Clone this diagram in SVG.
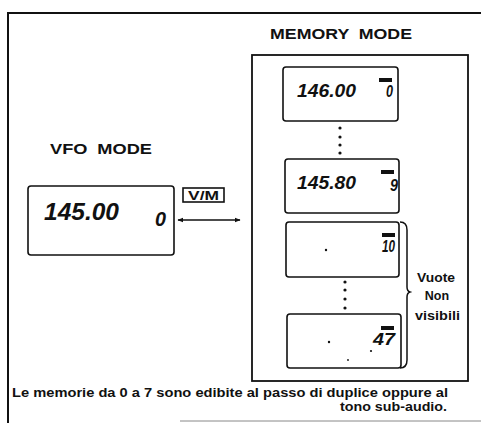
<svg xmlns="http://www.w3.org/2000/svg" width="481" height="423" viewBox="0 0 481 423">
<defs>
<style>
.lbl{font-family:"Liberation Sans",Arial,sans-serif;font-weight:bold;fill:#111}
.lcd{font-family:"Liberation Sans",Arial,sans-serif;font-style:italic;font-weight:bold;fill:#111}
.disp{fill:#fff;stroke:#111;stroke-width:1.6}
.frame{fill:none;stroke:#111;stroke-width:2}
.dot{fill:#111}
.ico{fill:#111}
</style>
<marker id="ah" viewBox="0 0 10 10" refX="9" refY="5" markerWidth="6" markerHeight="6" orient="auto-start-reverse" markerUnits="userSpaceOnUse">
<path d="M0,1 L10,5 L0,9 Z" fill="#111"/>
</marker>
</defs>
<rect width="481" height="423" fill="#fff"/>
<g id="frame">
<path class="frame" d="M8,423 L8,13 L481,13"/>
<path d="M180,421 L481,421" stroke="#888" stroke-width="1" fill="none"/>
</g>
<g id="titles">
<text class="lbl" x="270" y="39" font-size="14.5" textLength="142" lengthAdjust="spacingAndGlyphs" word-spacing="4">MEMORY MODE</text>
<text class="lbl" x="50" y="154" font-size="15" textLength="102" lengthAdjust="spacingAndGlyphs" word-spacing="4">VFO MODE</text>
</g>
<g id="vfo">
<rect class="disp" x="28" y="186" width="146" height="69" rx="3"/>
<text class="lcd" x="44" y="220" font-size="23" textLength="75" lengthAdjust="spacingAndGlyphs">145.00</text>
<text class="lcd" x="155" y="226" font-size="20" textLength="11" lengthAdjust="spacingAndGlyphs">0</text>
</g>
<g id="vm">
<rect x="183" y="188" width="41" height="14" fill="#fff" stroke="#111" stroke-width="1.6"/>
<text class="lbl" x="188" y="199.5" font-size="12" textLength="31" lengthAdjust="spacingAndGlyphs">V/M</text>
</g>
<g id="connectors">
<line x1="178" y1="220" x2="240" y2="220" stroke="#111" stroke-width="1.5" marker-start="url(#ah)" marker-end="url(#ah)"/>
</g>
<g id="memory">
<rect x="252" y="55" width="216" height="326" fill="none" stroke="#111" stroke-width="1.8"/>
</g>
<g id="mem0">
<rect class="disp" x="283" y="67" width="115" height="54" rx="3"/>
<text class="lcd" x="297" y="97" font-size="19" textLength="59" lengthAdjust="spacingAndGlyphs">146.00</text>
<rect class="ico" x="379" y="78" width="13" height="4"/>
<text class="lcd" x="386" y="97" font-size="16" textLength="7" lengthAdjust="spacingAndGlyphs">0</text>
</g>
<g id="dots1">
<circle class="dot" cx="340" cy="128" r="1.6"/>
<circle class="dot" cx="340" cy="137" r="1.6"/>
<circle class="dot" cx="340" cy="145" r="1.6"/>
<circle class="dot" cx="340" cy="153" r="1.6"/>
</g>
<g id="mem9">
<rect class="disp" x="285" y="159" width="114" height="54" rx="3"/>
<text class="lcd" x="297" y="189" font-size="19" textLength="59" lengthAdjust="spacingAndGlyphs">145.80</text>
<rect class="ico" x="381" y="170" width="13" height="4"/>
<text class="lcd" x="390" y="191" font-size="16" textLength="8" lengthAdjust="spacingAndGlyphs">9</text>
</g>
<g id="mem10">
<rect class="disp" x="286" y="222" width="113" height="55" rx="3"/>
<circle class="dot" cx="326" cy="250" r="1.2"/>
<rect class="ico" x="382" y="233" width="13" height="4"/>
<text class="lcd" x="382" y="252" font-size="16" textLength="13" lengthAdjust="spacingAndGlyphs">10</text>
</g>
<g id="dots2">
<circle class="dot" cx="345" cy="282" r="1.6"/>
<circle class="dot" cx="345" cy="290" r="1.6"/>
<circle class="dot" cx="345" cy="299" r="1.6"/>
<circle class="dot" cx="345" cy="308" r="1.6"/>
</g>
<g id="mem47">
<rect class="disp" x="287" y="314" width="114" height="54" rx="3"/>
<circle class="dot" cx="329" cy="342" r="1.2"/>
<circle class="dot" cx="371" cy="351" r="1.1"/>
<circle class="dot" cx="348" cy="360" r="0.9"/>
<rect class="ico" x="381" y="326" width="13" height="4"/>
<text class="lcd" x="373" y="345" font-size="16" textLength="22" lengthAdjust="spacingAndGlyphs">47</text>
</g>
<g id="brace">
<path d="M400,222 Q407,222 407,230 L407,287 Q407,291 410,292 Q407,293 407,297 L407,360 Q407,368 400,368" fill="none" stroke="#111" stroke-width="1.5"/>
<text class="lbl" x="417" y="282" font-size="12.5" textLength="38" lengthAdjust="spacingAndGlyphs">Vuote</text>
<text class="lbl" x="437" y="300" font-size="12.5" text-anchor="middle">Non</text>
<text class="lbl" x="415" y="320" font-size="12.5" textLength="45" lengthAdjust="spacingAndGlyphs">visibili</text>
</g>
<g id="note">
<text class="lbl" x="12" y="397" font-size="12.5" textLength="436" lengthAdjust="spacingAndGlyphs">Le memorie da 0 a 7 sono edibite al passo di duplice oppure al</text>
<text class="lbl" x="340" y="411" font-size="12.5" textLength="107" lengthAdjust="spacingAndGlyphs">tono sub-audio.</text>
</g>
</svg>
